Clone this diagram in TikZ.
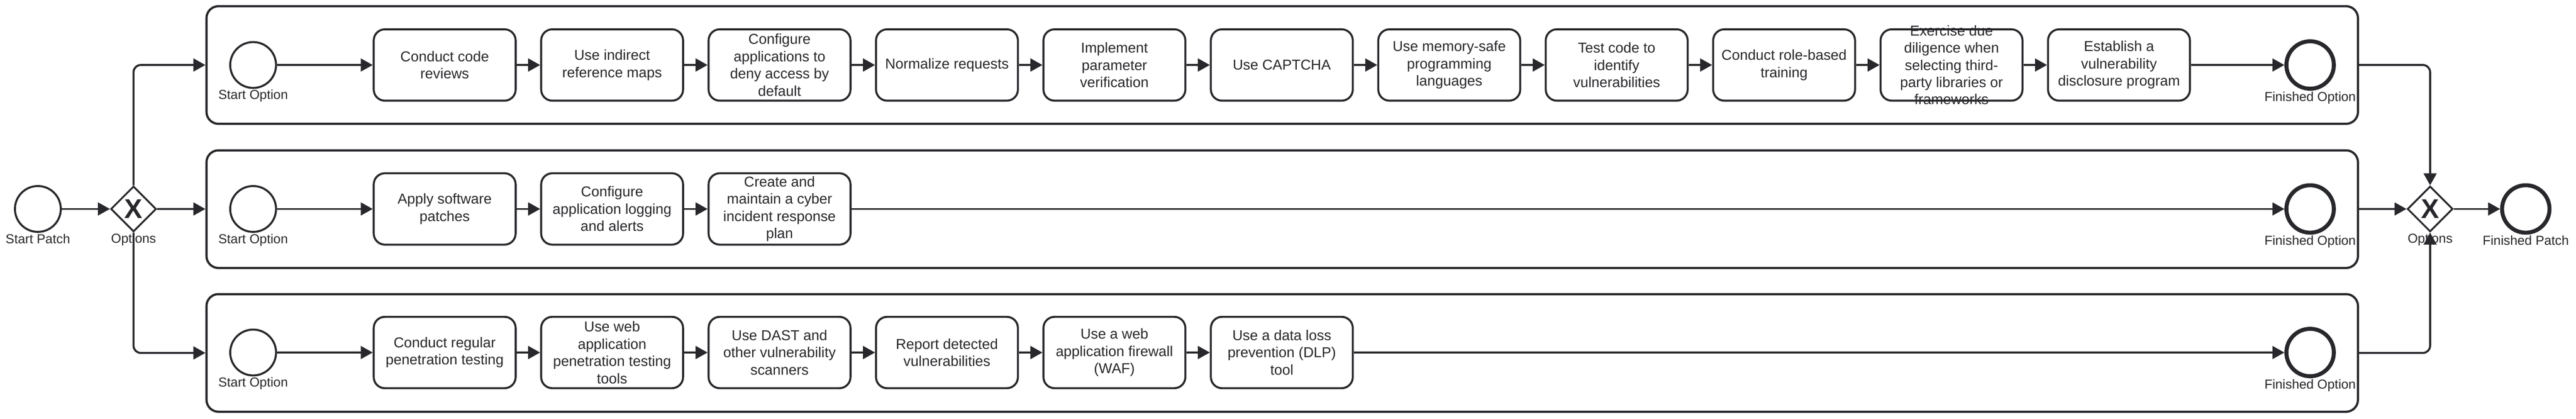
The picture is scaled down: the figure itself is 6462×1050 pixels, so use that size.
\documentclass[tikz,border=0pt]{standalone}
\usepackage{fontspec}
\setmainfont{Liberation Sans}
\usetikzlibrary{arrows.meta,shapes.geometric,positioning}
\definecolor{ink}{RGB}{40,40,44}

\begin{document}
\begin{tikzpicture}[x=1pt, y=1pt, color=ink, >={Triangle[length=30pt,width=32pt]}, line width=5pt, node distance=420pt,
    start/.style={circle, draw, line width=5pt, minimum size=115pt, inner sep=0pt, label distance=13pt},
    finish/.style={circle, draw, line width=10pt, minimum size=119pt, inner sep=0pt, label distance=11pt},
    gateway/.style={diamond, draw, line width=4.5pt, minimum width=114pt, minimum height=114pt, inner sep=0pt, font=\fontsize{68}{68}\selectfont\bfseries, label distance=12pt},
    task/.style={rectangle, draw, rounded corners=28pt, minimum width=356pt, minimum height=179pt, inner sep=0pt, label={[tasktext]center:{#1}}},
    tasktext/.style={align=center, font=\fontsize{36}{43.2}\selectfont, inner sep=0pt},
    pool/.style={rectangle, draw, line width=5.5pt, rounded corners=30pt, minimum width=5397pt, minimum height=295pt},
    every label/.style={font=\fontsize{32.7}{39}\selectfont, inner sep=0pt},
    flow/.style={->, rounded corners=18pt}]
    \useasboundingbox (0,0) rectangle (6462,-1050);

    % Nodes {start, gateways, pools}
    \node [start, label=below:Start Patch]          (sp)    at (95,-524)        {};
    \node [gateway, label=below:Options]            (split) at (335,-524)       {X};
    \node [pool]                                    (pool1) at (3216.5,-163)    {};
    \node [pool]                                    (pool2) at (3216.5,-524.5)  {};
    \node [pool]                                    (pool3) at (3216.5,-885)    {};
    \node [gateway, label=below:Options]            (merge) at (6096,-524)      {X};
    \node [finish, label=below:Finished Patch]      (fp)    at (6336,-524)      {};

    % Nodes, first option
    \node [start, label=below:Start Option]         (so1)   at (635,-163)       {};
    \node [task={Conduct code\\reviews}]            (a1)    at (1115.5,-163)    {};
    \node [task={Use indirect\\reference maps}]     (a2)    [right of=a1]       {};
    \node [task={Configure\\applications to\\deny access by\\default}] (a3) [right of=a2] {};
    \node [task={Normalize requests}]               (a4)    [right of=a3]       {};
    \node [task={Implement\\parameter\\verification}] (a5)  [right of=a4]       {};
    \node [task={Use CAPTCHA}]                      (a6)    [right of=a5]       {};
    \node [task={Use memory-safe\\programming\\languages}] (a7) [right of=a6]   {};
    \node [task={Test code to\\identify\\vulnerabilities}] (a8) [right of=a7]   {};
    \node [task={Conduct role-based\\training}]     (a9)    [right of=a8]       {};
    \node [task={Exercise due\\diligence when\\selecting third-\\party libraries or\\frameworks}] (a10) [right of=a9] {};
    \node [task={Establish a\\vulnerability\\disclosure program}] (a11) [right of=a10] {};
    \node [finish, label=below:Finished Option]     (fo1)   at (5795,-163)      {};

    % Nodes, second option
    \node [start, label=below:Start Option]         (so2)   at (635,-524)       {};
    \node [task={Apply software\\patches}]          (b1)    at (1115.5,-524)    {};
    \node [task={Configure\\application logging\\and alerts}] (b2) [right of=b1] {};
    \node [task={Create and\\maintain a cyber\\incident response\\plan}] (b3) [right of=b2] {};
    \node [finish, label=below:Finished Option]     (fo2)   at (5795,-524)      {};

    % Nodes, third option
    \node [start, label=below:Start Option]         (so3)   at (635,-884)       {};
    \node [task={Conduct regular\\penetration testing}] (c1) at (1115.5,-884)   {};
    \node [task={Use web\\application\\penetration testing\\tools}] (c2) [right of=c1] {};
    \node [task={Use DAST and\\other vulnerability\\scanners}] (c3) [right of=c2] {};
    \node [task={Report detected\\vulnerabilities}] (c4)    [right of=c3]       {};
    \node [task={Use a web\\application firewall\\(WAF)}] (c5) [right of=c4]    {};
    \node [task={Use a data loss\\prevention (DLP)\\tool}] (c6) [right of=c5]   {};
    \node [finish, label=below:Finished Option]     (fo3)   at (5795,-884)      {};

    % Paths, split and merge
    \path [->]      (sp) edge (split);
    \draw [flow]    (split.north) |- (pool1.west);
    \path [->]      (split) edge (pool2);
    \draw [flow]    (split.south) |- (pool3.west);
    \draw [flow]    (pool1.east) -| (merge.north);
    \path [->]      (pool2) edge (merge);
    \draw [flow]    (pool3.east) -| (merge.south);
    \path [->]      (merge) edge (fp);

    % Paths, first option
    \path [->]  (so1) edge (a1);
    \path [->]  (a1) edge (a2);
    \path [->]  (a2) edge (a3);
    \path [->]  (a3) edge (a4);
    \path [->]  (a4) edge (a5);
    \path [->]  (a5) edge (a6);
    \path [->]  (a6) edge (a7);
    \path [->]  (a7) edge (a8);
    \path [->]  (a8) edge (a9);
    \path [->]  (a9) edge (a10);
    \path [->]  (a10) edge (a11);
    \path [->]  (a11) edge (fo1);

    % Paths, second option
    \path [->]  (so2) edge (b1);
    \path [->]  (b1) edge (b2);
    \path [->]  (b2) edge (b3);
    \path [->]  (b3) edge (fo2);

    % Paths, third option
    \path [->]  (so3) edge (c1);
    \path [->]  (c1) edge (c2);
    \path [->]  (c2) edge (c3);
    \path [->]  (c3) edge (c4);
    \path [->]  (c4) edge (c5);
    \path [->]  (c5) edge (c6);
    \path [->]  (c6) edge (fo3);

\end{tikzpicture}
\end{document}
